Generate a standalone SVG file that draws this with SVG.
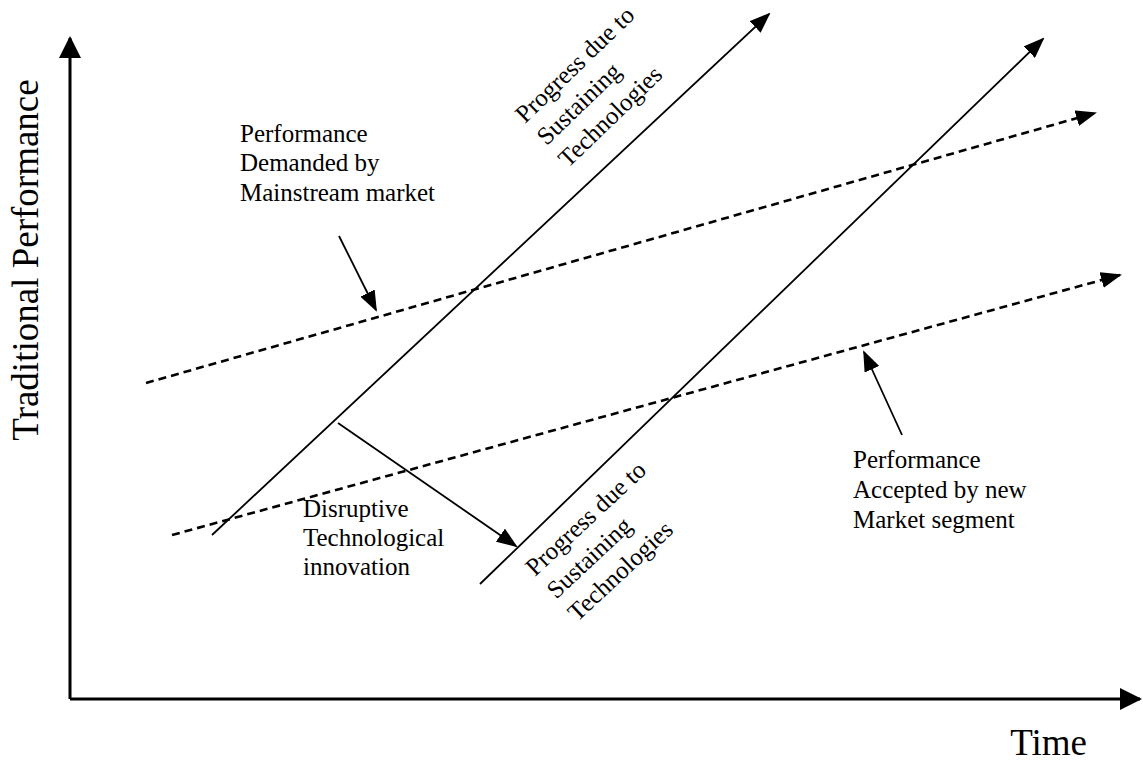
<svg xmlns="http://www.w3.org/2000/svg" width="1143" height="761" viewBox="0 0 1143 761">
<style>
  text { font-family: "Liberation Serif", "Times New Roman", serif; fill: #000; }
  .lbl { font-size: 25px; }
  .big { font-size: 37px; }
  .axis { stroke: #000; stroke-width: 3; fill: none; }
  .solid { stroke: #000; stroke-width: 1.8; fill: none; }
  .dash { stroke: #000; stroke-width: 2.6; fill: none; stroke-dasharray: 8 5; }
  .ptr { stroke: #000; stroke-width: 1.8; fill: none; }
</style>
<defs>
  <marker id="axh" markerUnits="userSpaceOnUse" markerWidth="22" markerHeight="22" refX="20" refY="11" orient="auto">
    <path d="M0,0 L22,11 L0,22 z" fill="#000"/>
  </marker>
  <marker id="ah" markerUnits="userSpaceOnUse" markerWidth="21" markerHeight="16" refX="19" refY="8" orient="auto">
    <path d="M0,0 L21,8 L0,16 z" fill="#000"/>
  </marker>
</defs>
<rect width="1143" height="761" fill="#fff"/>

<g id="axes">
  <path class="axis" d="M70,699 L70,38" marker-end="url(#axh)"/>
  <path class="axis" d="M70,699 L1140,699" marker-end="url(#axh)"/>
</g>

<g id="connectors">
  <path id="sustaining-1" class="solid" d="M212,535 L769,14" marker-end="url(#ah)"/>
  <path id="sustaining-2" class="solid" d="M480,584 L1043,39" marker-end="url(#ah)"/>
  <path id="demanded-line" class="dash" d="M146,383 L1095,113" marker-end="url(#ah)"/>
  <path id="accepted-line" class="dash" d="M172,535 L1120,275" marker-end="url(#ah)"/>
  <path id="ptr-demanded" class="ptr" d="M339,236 L376,310" marker-end="url(#ah)"/>
  <path id="ptr-accepted" class="ptr" d="M902,435 L864,352" marker-end="url(#ah)"/>
  <path id="ptr-disruptive" class="ptr" d="M338,423 L516,546" marker-end="url(#ah)"/>
</g>

<g id="label-y">
  <text class="big" text-anchor="middle" transform="translate(38,260) rotate(-90)">Traditional Performance</text>
</g>
<g id="label-x">
  <text class="big" x="1087" y="755" text-anchor="end">Time</text>
</g>

<g id="node-demanded">
  <text class="lbl" x="240" y="142">Performance</text>
  <text class="lbl" x="240" y="171">Demanded by</text>
  <text class="lbl" x="240" y="201">Mainstream market</text>
</g>

<g id="node-accepted">
  <text class="lbl" x="853" y="468">Performance</text>
  <text class="lbl" x="853" y="498">Accepted by new</text>
  <text class="lbl" x="853" y="528">Market segment</text>
</g>

<g id="node-disruptive">
  <text class="lbl" x="303" y="517">Disruptive</text>
  <text class="lbl" x="303" y="546">Technological</text>
  <text class="lbl" x="303" y="575">innovation</text>
</g>

<g id="node-progress-top" transform="translate(525,124) rotate(-44)">
  <text class="lbl" x="0" y="0">Progress due to</text>
  <text class="lbl" x="0" y="31">Sustaining</text>
  <text class="lbl" x="0" y="62">Technologies</text>
</g>

<g id="node-progress-bottom" transform="translate(535,577) rotate(-43)">
  <text class="lbl" x="0" y="0">Progress due to</text>
  <text class="lbl" x="0" y="31">Sustaining</text>
  <text class="lbl" x="0" y="62">Technologies</text>
</g>
</svg>
